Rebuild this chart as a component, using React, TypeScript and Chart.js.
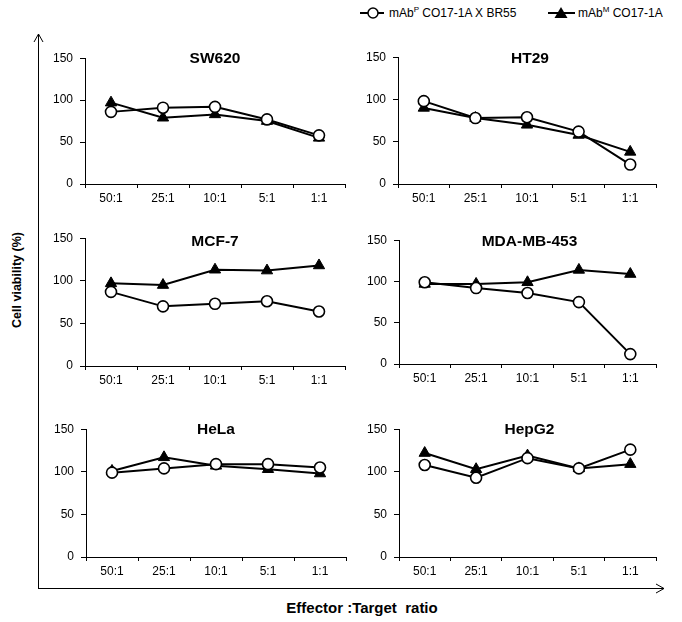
import React, { useEffect, useRef } from "react";
import { Chart, registerables } from "chart.js";

Chart.register(...registerables);

// ---- data ----
const ratios = ["50:1", "25:1", "10:1", "5:1", "1:1"];
const yMin = 0;
const yMax = 150;
const yStep = 50;

const seriesBispecificLabel = "mAbP CO17-1A X BR55";
const seriesMonoLabel = "mAbM CO17-1A";

const sw620Bispecific = [86, 91, 92, 77, 58];
const sw620Mono = [97, 79, 83, 75, 55];
const ht29Bispecific = [98, 78, 79, 62, 23];
const ht29Mono = [90, 78, 70, 58, 38];
const mcf7Bispecific = [87, 70, 73, 76, 64];
const mcf7Mono = [97, 95, 113, 112, 118];
const mdaBispecific = [99, 92, 86, 75, 12];
const mdaMono = [97, 97, 99, 114, 109];
const helaBispecific = [99, 104, 109, 109, 105];
const helaMono = [101, 117, 107, 103, 98];
const hepg2Bispecific = [108, 93, 116, 104, 126];
const hepg2Mono = [122, 103, 119, 104, 109];

const cellLines = ["SW620", "HT29", "MCF-7", "MDA-MB-453", "HeLa", "HepG2"];
const bispecificByLine = [sw620Bispecific, ht29Bispecific, mcf7Bispecific, mdaBispecific, helaBispecific, hepg2Bispecific];
const monoByLine = [sw620Mono, ht29Mono, mcf7Mono, mdaMono, helaMono, hepg2Mono];

// ---- layout (plot area rectangles, in page pixels) ----
const panelRects = [
  { L: 85, R: 345, T: 54, B: 184, dy: 1, dx: 0 },
  { L: 398, R: 656, T: 53, B: 184, dy: 2, dx: 3 },
  { L: 85, R: 345, T: 234, B: 366, dy: 4, dx: 0 },
  { L: 399, R: 656, T: 236, B: 364, dy: 2, dx: 2 },
  { L: 86, R: 346, T: 425, B: 557, dy: 1, dx: 0 },
  { L: 399, R: 656, T: 425, B: 557, dy: 1, dx: 2 },
];

const PAD_TOP = 10;
const PAD_RIGHT = 10;
const Y_AXIS_W = 50;
const X_AXIS_H = 30;
const FONT = "Arial, 'Liberation Sans', sans-serif";

function Panel({ idx }: { idx: number }) {
  const ref = useRef<HTMLCanvasElement | null>(null);
  const r = panelRects[idx];
  const width = r.R - r.L + Y_AXIS_W + PAD_RIGHT;
  const height = r.B - r.T + PAD_TOP + X_AXIS_H;

  useEffect(() => {
    if (!ref.current) return;
    const title = cellLines[idx];
    const titlePlugin = {
      id: "panelTitle",
      afterDraw(chart: any) {
        const { ctx, chartArea } = chart;
        ctx.save();
        ctx.font = `bold 15.5px ${FONT}`;
        ctx.fillStyle = "#000";
        ctx.textAlign = "center";
        ctx.textBaseline = "middle";
        ctx.fillText(title, (chartArea.left + chartArea.right) / 2 + r.dx, chartArea.top + r.dy);
        ctx.restore();
      },
    };
    const chart = new Chart(ref.current, {
      type: "line",
      data: {
        labels: ratios,
        datasets: [
          {
            label: seriesBispecificLabel,
            data: bispecificByLine[idx],
            borderColor: "#000",
            borderWidth: 2,
            pointStyle: "circle",
            pointRadius: 5.5,
            pointBorderWidth: 1.6,
            pointBackgroundColor: "#fff",
            pointBorderColor: "#000",
            tension: 0,
            order: 0,
          },
          {
            label: seriesMonoLabel,
            data: monoByLine[idx],
            borderColor: "#000",
            borderWidth: 2,
            pointStyle: "triangle",
            pointRadius: 6.5,
            pointBorderWidth: 1,
            pointBackgroundColor: "#000",
            pointBorderColor: "#000",
            tension: 0,
            order: 1,
          },
        ],
      },
      options: {
        responsive: false,
        animation: false,
        events: [],
        layout: { padding: { top: PAD_TOP, right: PAD_RIGHT, left: 0, bottom: 0 } },
        plugins: { legend: { display: false }, tooltip: { enabled: false }, title: { display: false } },
        scales: {
          x: {
            type: "category",
            offset: true,
            grid: { offset: true, drawOnChartArea: false, color: "#000", tickLength: 4, lineWidth: 1 },
            border: { color: "#000", width: 1 },
            ticks: { color: "#000", font: { family: FONT, size: 12 }, padding: 3, maxRotation: 0, autoSkip: false },
            afterFit: (s: any) => {
              s.height = X_AXIS_H;
            },
          },
          y: {
            min: yMin,
            max: yMax,
            grid: { drawOnChartArea: false, color: "#000", tickLength: 5, lineWidth: 1 },
            border: { color: "#000", width: 1 },
            ticks: { stepSize: yStep, color: "#000", font: { family: FONT, size: 12 }, padding: 7 },
            afterFit: (s: any) => {
              s.width = Y_AXIS_W;
            },
          },
        },
      },
      plugins: [titlePlugin],
    } as any);
    return () => chart.destroy();
  }, [idx]);

  return (
    <canvas
      ref={ref}
      width={width}
      height={height}
      style={{ position: "absolute", left: r.L - Y_AXIS_W, top: r.T - PAD_TOP, width, height, display: "block" }}
    />
  );
}

export default function App() {
  return (
    <div style={{ position: "absolute", left: 0, top: 0, width: 682, height: 622, background: "#fff", fontFamily: FONT, color: "#000" }}>
      {/* outer axes */}
      <svg width={682} height={622} style={{ position: "absolute", left: 0, top: 0 }}>
        <line x1={38.5} y1={34} x2={38.5} y2={588.5} stroke="#000" strokeWidth={1} />
        <polyline points="34,42 38.5,34 43,42" fill="none" stroke="#000" strokeWidth={1} />
        <line x1={38} y1={588.5} x2={664} y2={588.5} stroke="#000" strokeWidth={1} />
        <polyline points="656,584 664,588.5 656,593" fill="none" stroke="#000" strokeWidth={1} />
      </svg>

      {/* legend */}
      <svg width={26} height={14} style={{ position: "absolute", left: 360, top: 6 }}>
        <line x1={0} y1={7} x2={24} y2={7} stroke="#000" strokeWidth={2} />
        <circle cx={13} cy={7} r={5} fill="#fff" stroke="#000" strokeWidth={1.5} />
      </svg>
      <div style={{ position: "absolute", left: 389, top: 6, fontSize: 12, lineHeight: "14px", whiteSpace: "nowrap" }}>
        mAb<sup style={{ fontSize: 8, verticalAlign: "top", lineHeight: "8px" }}>P</sup> CO17-1A X BR55
      </div>
      <svg width={28} height={14} style={{ position: "absolute", left: 548, top: 6 }}>
        <line x1={0} y1={7} x2={27} y2={7} stroke="#000" strokeWidth={2} />
        <polygon points="13,1 19.5,12 6.5,12" fill="#000" />
      </svg>
      <div style={{ position: "absolute", left: 578, top: 6, fontSize: 12, lineHeight: "14px", whiteSpace: "nowrap" }}>
        mAb<sup style={{ fontSize: 8, verticalAlign: "top", lineHeight: "8px" }}>M</sup> CO17-1A
      </div>

      {/* axis titles */}
      <div
        style={{
          position: "absolute",
          left: 17,
          top: 280,
          transform: "translate(-50%, -50%) rotate(-90deg)",
          fontWeight: "bold",
          fontSize: 12.5,
          whiteSpace: "nowrap",
        }}
      >
        Cell viability (%)
      </div>
      <div
        style={{
          position: "absolute",
          left: 362,
          top: 607,
          transform: "translate(-50%, -50%)",
          fontWeight: "bold",
          fontSize: 15,
          whiteSpace: "pre",
        }}
      >
        {"Effector :Target  ratio"}
      </div>

      {cellLines.map((_, i) => (
        <Panel key={i} idx={i} />
      ))}
    </div>
  );
}
